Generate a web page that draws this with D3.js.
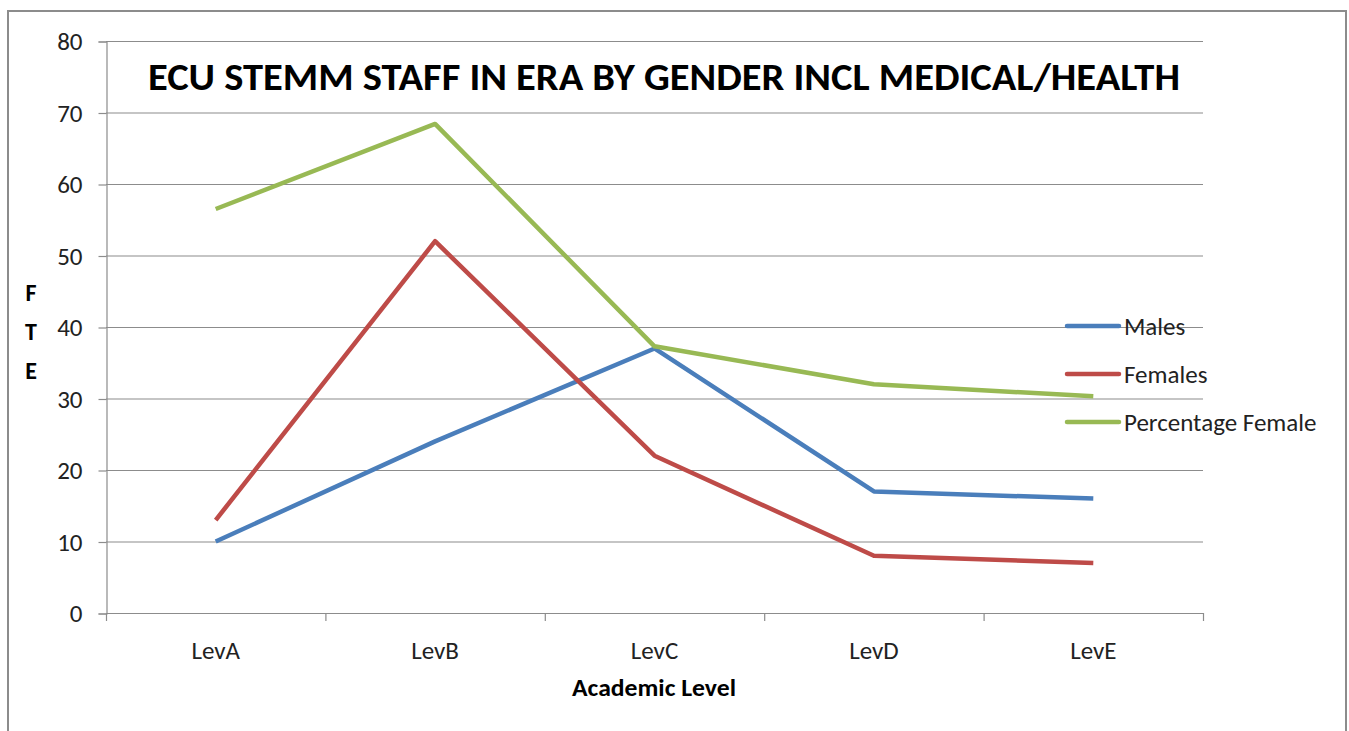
<!DOCTYPE html>
<html>
<head>
<meta charset="utf-8">
<script src="https://cdn.jsdelivr.net/npm/d3@7"></script>
<style>
  body { margin: 0; background: #fff; }
  text { font-family: Carlito, "Open Sans", "Noto Sans", sans-serif; }
</style>
</head>
<body>
<script>
'use strict';

// chart data
const levels = ["LevA", "LevB", "LevC", "LevD", "LevE"];
const males = [10, 24, 37, 17, 16];
const females = [13, 52, 22, 8, 7];
const pctFemale = [56.5, 68.4, 37.3, 32, 30.3];
const yTicks = [0, 10, 20, 30, 40, 50, 60, 70, 80];
const seriesNames = ["Males", "Females", "Percentage Female"];
const seriesColors = ["#4a7ebb", "#be4b48", "#98b954"];

const width = 1349, height = 731;
const plot = { left: 106, right: 1203, top: 41, bottom: 613 };

const svg = d3.select('body').append('svg')
  .attr('width', width)
  .attr('height', height);

// outer chart frame
svg.append('rect')
  .attr('x', 8).attr('y', 11)
  .attr('width', 1338).attr('height', 740)
  .attr('fill', 'none')
  .attr('stroke', '#8c8c8c')
  .attr('stroke-width', 2);

let xScale = d3.scaleBand()
  .domain(levels)
  .range([plot.left, plot.right]);

let yScale = d3.scaleLinear()
  .domain([0, 80])
  .range([plot.bottom, plot.top]);

// gridlines
svg.append('g')
  .selectAll('line')
  .data(yTicks)
  .enter()
  .append('line')
    .attr('x1', plot.left)
    .attr('x2', plot.right)
    .attr('y1', (d) => yScale(d) + 0.5)
    .attr('y2', (d) => yScale(d) + 0.5)
    .attr('stroke', '#8c8c8c')
    .attr('stroke-width', 1.2);

// y axis
let yAxis = d3.axisLeft(yScale).tickValues(yTicks).tickSize(8).tickPadding(16);
let yg = svg.append('g')
  .attr('transform', `translate(${plot.left + 0.5}, 0.5)`)
  .call(yAxis);
yg.select('.domain').attr('stroke', '#8c8c8c').attr('stroke-width', 1.2);
yg.selectAll('.tick line').attr('stroke', '#8c8c8c').attr('stroke-width', 1.2);
yg.selectAll('.tick text')
  .attr('font-size', 25)
  .attr('fill', '#222')
  .style('font-family', 'Carlito, "Open Sans", sans-serif');

// x axis: ticks at category boundaries
let xTickPos = levels.map((d) => xScale(d)).concat([plot.right]);
svg.append('g')
  .selectAll('line')
  .data(xTickPos)
  .enter()
  .append('line')
    .attr('x1', (d) => d + 0.5)
    .attr('x2', (d) => d + 0.5)
    .attr('y1', plot.bottom)
    .attr('y2', plot.bottom + 8)
    .attr('stroke', '#8c8c8c')
    .attr('stroke-width', 1.2);

svg.append('g')
  .selectAll('text')
  .data(levels)
  .enter()
  .append('text')
    .attr('x', (d) => xScale(d) + xScale.bandwidth() / 2)
    .attr('y', 659)
    .attr('text-anchor', 'middle')
    .attr('font-size', 25)
    .attr('fill', '#222')
    .text((d) => d);

// axis titles
svg.append('text')
  .attr('x', 654).attr('y', 696)
  .attr('text-anchor', 'middle')
  .attr('font-size', 25)
  .attr('font-weight', 'bold')
  .attr('textLength', 164)
  .attr('lengthAdjust', 'spacingAndGlyphs')
  .text('Academic Level');

svg.append('g')
  .selectAll('text')
  .data(['F', 'T', 'E'])
  .enter()
  .append('text')
    .attr('x', 31)
    .attr('y', (d, i) => 301 + i * 39)
    .attr('text-anchor', 'middle')
    .attr('font-size', 24)
    .attr('font-weight', 'bold')
    .text((d) => d);

// chart title
svg.append('text')
  .attr('x', 664).attr('y', 90)
  .attr('text-anchor', 'middle')
  .attr('font-size', 39)
  .attr('font-weight', 'bold')
  .attr('textLength', 1032)
  .attr('lengthAdjust', 'spacingAndGlyphs')
  .text('ECU STEMM STAFF IN ERA BY GENDER INCL MEDICAL/HEALTH');

// lines
let allSeries = [males, females, pctFemale];
let line = d3.line()
  .x((d, i) => xScale(levels[i]) + xScale.bandwidth() / 2)
  .y((d) => yScale(d));

svg.append('g')
  .selectAll('path')
  .data(allSeries)
  .enter()
  .append('path')
    .attr('d', (d) => line(d))
    .attr('fill', 'none')
    .attr('stroke', (d, i) => seriesColors[i])
    .attr('stroke-width', 4.5)
    .attr('stroke-linejoin', 'round');

// legend
let legend = svg.append('g')
  .selectAll('g')
  .data(seriesNames)
  .enter()
  .append('g')
    .attr('transform', (d, i) => `translate(1067, ${326 + i * 48})`);

legend.append('line')
  .attr('x1', 0).attr('x2', 52)
  .attr('y1', 0).attr('y2', 0)
  .attr('stroke', (d, i) => seriesColors[i])
  .attr('stroke-width', 4.5)
  .attr('stroke-linecap', 'round');

legend.append('text')
  .attr('x', 57).attr('y', 9)
  .attr('font-size', 25)
  .attr('fill', '#222')
  .text((d) => d);
</script>
</body>
</html>
